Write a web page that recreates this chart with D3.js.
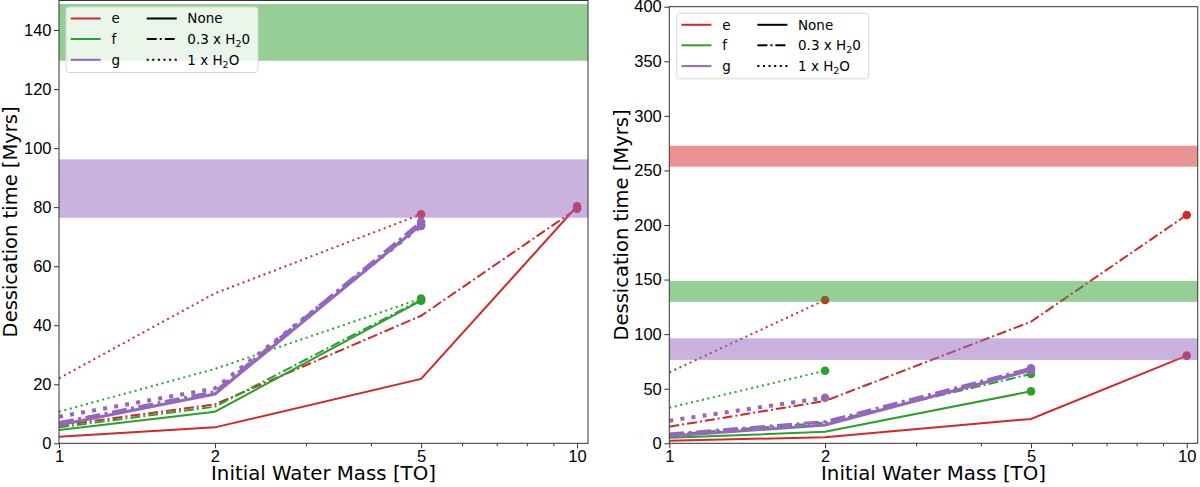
<!DOCTYPE html>
<html>
<head>
<meta charset="utf-8">
<script src="https://cdn.jsdelivr.net/npm/d3@7"></script>
<style>
  body { margin: 0; background: #fff; }
  svg { font-family: "DejaVu Sans", sans-serif; }
  .tick text { font-size: 16.5px; fill: #000; }
  .tick line { stroke: #333; }
</style>
</head>
<body>
<svg id="chart" width="1200" height="487"></svg>
<script>
// water masses [TO] and tick labels
const masses = [1, 2, 5, 10];
const majorTicks = [1, 2, 5, 10];
const minorTicks = [3, 4, 6, 7, 8, 9];
const planets = ['e', 'f', 'g'];
const styles = ['none', 'h03', 'h1'];

// left panel, desiccation times [Myrs]
const leftE_none = [2.2, 5.4, 21.8, 80.3];
const leftE_h03 = [6.0, 13.2, 43.2, 79.5];
const leftE_h1 = [22.0, 50.8, 77.6];
const leftF_none = [4.5, 10.7, 48.3];
const leftF_h03 = [5.4, 12.4, 48.6];
const leftF_h1 = [10.7, 25.2, 49.0];
const leftG_none = [6.2, 16.7, 74.0];
const leftG_h03 = [7.0, 17.5, 75.0];
const leftG_h1 = [9.0, 18.6, 73.6];

// right panel
const rightE_none = [2.4, 5.5, 22.3, 80.3];
const rightE_h03 = [15.2, 38.8, 111.4, 209.2];
const rightE_h1 = [65.0, 131.3];
const rightF_none = [5.0, 10.6, 47.6];
const rightF_h03 = [7.9, 19.0, 63.5];
const rightF_h1 = [32.6, 66.5];
const rightG_none = [6.7, 16.8, 67.0];
const rightG_h03 = [8.5, 19.8, 68.7];
const rightG_h1 = [20.7, 41.8];

// observed ranges (bands)
const bandE = [253.4, 272.6];
const bandF = [129.6, 148.8];
const bandG = [76.4, 96.2];

const leftTicksY = [0, 20, 40, 60, 80, 100, 120, 140];
const rightTicksY = [0, 50, 100, 150, 200, 250, 300, 350, 400];

const colors = { e: '#d62728', f: '#2ca02c', g: '#9467bd' };
// purple drawn thicker, its dotted line even more so
const widthFor = (planet, style) => planet === 'g' ? (style === 'h1' ? 4 : 3) : 2;
const dashFor = (style, lw) => {
    if (style === 'h03') return `${5 * lw},${1.5 * lw},${lw},${1.5 * lw}`;
    if (style === 'h1') return `${lw},${1.8 * lw}`;
    return null;
};

const leftSeries = [
    { planet: 'e', style: 'none', values: leftE_none },
    { planet: 'e', style: 'h03', values: leftE_h03 },
    { planet: 'e', style: 'h1', values: leftE_h1 },
    { planet: 'f', style: 'none', values: leftF_none },
    { planet: 'f', style: 'h03', values: leftF_h03 },
    { planet: 'f', style: 'h1', values: leftF_h1 },
    { planet: 'g', style: 'none', values: leftG_none },
    { planet: 'g', style: 'h03', values: leftG_h03 },
    { planet: 'g', style: 'h1', values: leftG_h1 }
];
const rightSeries = [
    { planet: 'e', style: 'none', values: rightE_none },
    { planet: 'e', style: 'h03', values: rightE_h03 },
    { planet: 'e', style: 'h1', values: rightE_h1 },
    { planet: 'f', style: 'none', values: rightF_none },
    { planet: 'f', style: 'h03', values: rightF_h03 },
    { planet: 'f', style: 'h1', values: rightF_h1 },
    { planet: 'g', style: 'none', values: rightG_none },
    { planet: 'g', style: 'h03', values: rightG_h03 },
    { planet: 'g', style: 'h1', values: rightG_h1 }
];
const bands = [
    { planet: 'e', range: bandE },
    { planet: 'f', range: bandF },
    { planet: 'g', range: bandG }
];

const svg = d3.select('#chart');

const drawPanel = (cfg) => {
    const { id, left, right, top, bottom, yMax, yTicks, series, labelX, legendX, legendY } = cfg;

    const x = d3.scaleLog().domain([1, 10.5]).range([left, right]);
    const y = d3.scaleLinear().domain([0, yMax]).range([bottom, top]);

    svg.append('clipPath').attr('id', id)
        .append('rect')
        .attr('x', left).attr('y', top)
        .attr('width', right - left).attr('height', bottom - top);

    const plot = svg.append('g').attr('clip-path', `url(#${id})`);

    const line = d3.line()
        .x(d => x(d.m))
        .y(d => y(d.v));

    // lines
    series.forEach(s => {
        const pts = s.values.map((v, i) => ({ m: masses[i], v }));
        const lw = widthFor(s.planet, s.style);
        plot.append('path')
            .datum(pts)
            .attr('d', line)
            .attr('fill', 'none')
            .attr('stroke', colors[s.planet])
            .attr('stroke-width', lw)
            .attr('stroke-dasharray', dashFor(s.style, lw));
    });

    // end markers
    series.forEach(s => {
        const i = s.values.length - 1;
        plot.append('circle')
            .attr('cx', x(masses[i]))
            .attr('cy', y(s.values[i]))
            .attr('r', 4.3)
            .attr('fill', colors[s.planet]);
    });

    // bands on top
    plot.selectAll('.band')
        .data(bands)
        .enter().append('rect')
        .attr('class', 'band')
        .attr('x', left)
        .attr('width', right - left)
        .attr('y', d => y(d.range[1]))
        .attr('height', d => y(d.range[0]) - y(d.range[1]))
        .attr('fill', d => colors[d.planet])
        .attr('opacity', 0.5);

    // axes
    const xAxis = svg.append('g')
        .attr('transform', `translate(0,${bottom})`)
        .call(d3.axisBottom(x).tickValues(majorTicks).tickFormat(d3.format('d')).tickSize(5).tickPadding(2).tickSizeOuter(0));
    xAxis.select('.domain').remove();

    const xMinor = svg.append('g')
        .attr('transform', `translate(0,${bottom})`)
        .call(d3.axisBottom(x).tickValues(minorTicks).tickFormat('').tickSize(3).tickSizeOuter(0));
    xMinor.select('.domain').remove();

    const yAxis = svg.append('g')
        .attr('transform', `translate(${left},0)`)
        .call(d3.axisLeft(y).tickValues(yTicks).tickSize(5).tickPadding(2.5).tickSizeOuter(0));
    yAxis.select('.domain').remove();

    svg.append('rect')
        .attr('x', left).attr('y', top)
        .attr('width', right - left).attr('height', bottom - top)
        .attr('fill', 'none')
        .attr('stroke', '#333')
        .attr('stroke-width', 1);

    // axis titles
    svg.append('text')
        .attr('x', (left + right) / 2)
        .attr('y', 480)
        .attr('text-anchor', 'middle')
        .style('font-size', '19.8px')
        .text('Initial Water Mass [TO]');

    svg.append('text')
        .attr('transform', `translate(${labelX},${(top + bottom) / 2}) rotate(-90)`)
        .attr('text-anchor', 'middle')
        .style('font-size', '19.5px')
        .text('Dessication time [Myrs]');

    // legend
    const lg = svg.append('g').attr('transform', `translate(${legendX},${legendY})`);
    lg.append('rect')
        .attr('width', 192).attr('height', 65.5)
        .attr('rx', 3)
        .attr('fill', '#fff').attr('fill-opacity', 0.8)
        .attr('stroke', '#d8d8d8');

    const rowY = [11.5, 32, 52.8];
    planets.forEach((p, i) => {
        lg.append('line')
            .attr('x1', 4.7).attr('x2', 34.7)
            .attr('y1', rowY[i]).attr('y2', rowY[i])
            .attr('stroke', colors[p]).attr('stroke-width', 2);
        lg.append('text')
            .attr('x', 45.5).attr('y', rowY[i]).attr('dy', '0.35em')
            .style('font-size', '13.5px')
            .text(p);
    });

    const styleLabels = [
        ['None'],
        ['0.3 x H', '2', '0'],
        ['1 x H', '2', 'O']
    ];
    styles.forEach((st, i) => {
        lg.append('line')
            .attr('x1', 80.7).attr('x2', 110.7)
            .attr('y1', rowY[i]).attr('y2', rowY[i])
            .attr('stroke', '#000').attr('stroke-width', 2)
            .attr('stroke-dasharray', dashFor(st, 2));
        const t = lg.append('text')
            .attr('x', 121.3).attr('y', rowY[i]).attr('dy', '0.35em')
            .style('font-size', '13.5px');
        const parts = styleLabels[i];
        t.append('tspan').text(parts[0]);
        if (parts.length > 1) {
            t.append('tspan').attr('dy', 3).style('font-size', '9.5px').text(parts[1]);
            t.append('tspan').attr('dy', -3).text(parts[2]);
        }
    });
};

drawPanel({
    id: 'clipL', left: 59, right: 588, top: 0.5, bottom: 443.3,
    yMax: 150, yTicks: leftTicksY, series: leftSeries,
    labelX: 17, legendX: 66, legendY: 7
});

drawPanel({
    id: 'clipR', left: 669.3, right: 1197.7, top: 6.7, bottom: 443.3,
    yMax: 400, yTicks: rightTicksY, series: rightSeries,
    labelX: 628, legendX: 676.7, legendY: 13.3
});
</script>
</body>
</html>
